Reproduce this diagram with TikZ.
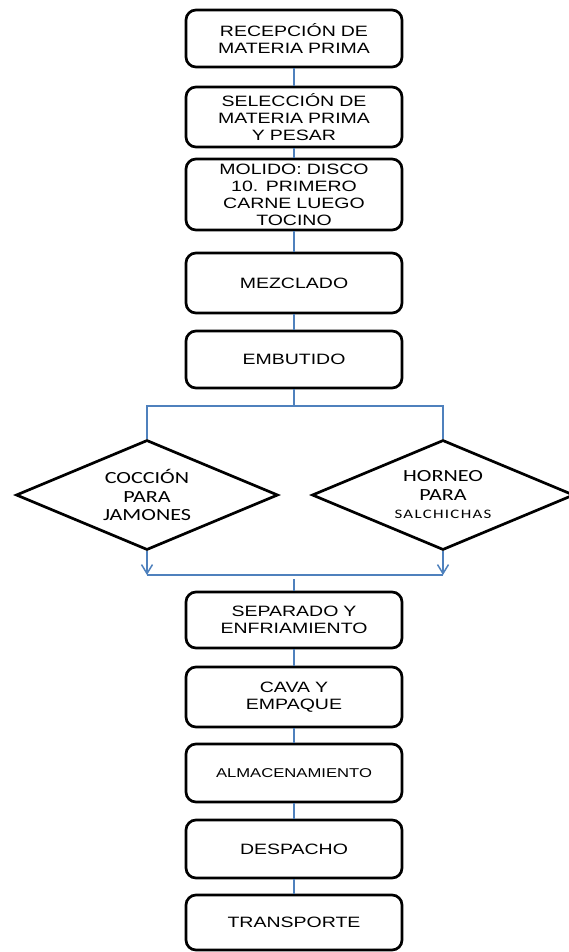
\documentclass[tikz,border=0pt]{standalone}
\usepackage{fontspec}
\newfontfamily\boxfont[FakeStretch=1.3]{Liberation Sans}
\newfontfamily\rombfont[FakeStretch=1.3]{Carlito}
\newfontfamily\salchfont[FakeStretch=1.3,LetterSpace=10]{Carlito}
\usetikzlibrary{shapes.geometric,arrows.meta}
\definecolor{azul}{RGB}{79,129,189}
\tikzstyle{paso} = [draw, line width=2.7pt, rounded corners=10pt, minimum width=216pt, text width=210pt, align=center, inner sep=0pt, font=\boxfont\fontsize{15}{17}\selectfont]
\tikzstyle{rombo} = [draw, diamond, line width=2.7pt, shape aspect=2.4, minimum width=262pt, minimum height=110pt, inner sep=0pt, align=center, font=\rombfont\fontsize{17}{18.5}\selectfont]
\tikzstyle{linea} = [draw=azul, line width=1.5pt]

\begin{document}
\begin{tikzpicture}[x=1pt,y=-1pt]
\useasboundingbox (0,0) rectangle (568,952);
\node[paso, minimum height=57pt] (recep) at (294,38.5) {RECEPCIÓN DE\\MATERIA PRIMA};
\node[paso, minimum height=60pt] (selec) at (294,117) {SELECCIÓN DE\\MATERIA PRIMA\\Y PESAR};
\node[paso, minimum height=71pt] (molido) at (294,194.5) {MOLIDO: DISCO\\10. PRIMERO\\CARNE LUEGO\\TOCINO};
\node[paso, minimum height=60pt] (mezcla) at (294,283) {MEZCLADO};
\node[paso, minimum height=57pt] (embut) at (294,359.5) {EMBUTIDO};
\node[rombo] (coccion) at (147,495) {COCCIÓN\\PARA\\JAMONES};
\node[rombo] (horneo) at (443,495) {HORNEO\\PARA\\{\salchfont\fontsize{13}{18.5}\selectfont SALCHICHAS}};
\node[paso, minimum height=56pt] (separ) at (294,620) {SEPARADO Y\\ENFRIAMIENTO};
\node[paso, minimum height=60pt] (cava) at (294,697) {CAVA Y\\EMPAQUE};
\node[paso, minimum height=58pt, font=\boxfont\fontsize{12.8}{14}\selectfont] (almac) at (294,773) {ALMACENAMIENTO};
\node[paso, minimum height=58pt] (desp) at (294,849) {DESPACHO};
\node[paso, minimum height=55pt] (transp) at (294,922.5) {TRANSPORTE};

\foreach \a/\b in {recep/selec, selec/molido, molido/mezcla, mezcla/embut, separ/cava, cava/almac, almac/desp, desp/transp}
  \draw[linea] (\a) -- (\b);

% ramas
\coordinate (rama) at (294,406);
\coordinate (union) at (294,575);
\coordinate (bajada) at (294,579);
\draw[linea] (embut) -- (rama);
\draw[linea] (coccion.north) |- (rama) -| (horneo.north);
\draw[linea, -{Straight Barb[length=9pt,width=11pt]}] (coccion.south) -- (coccion.south |- union);
\draw[linea, -{Straight Barb[length=9pt,width=11pt]}] (horneo.south) -- (horneo.south |- union);
\draw[linea] (coccion.south |- union) -- (horneo.south |- union);
\draw[linea] (bajada) -- (separ);
\end{tikzpicture}
\end{document}
